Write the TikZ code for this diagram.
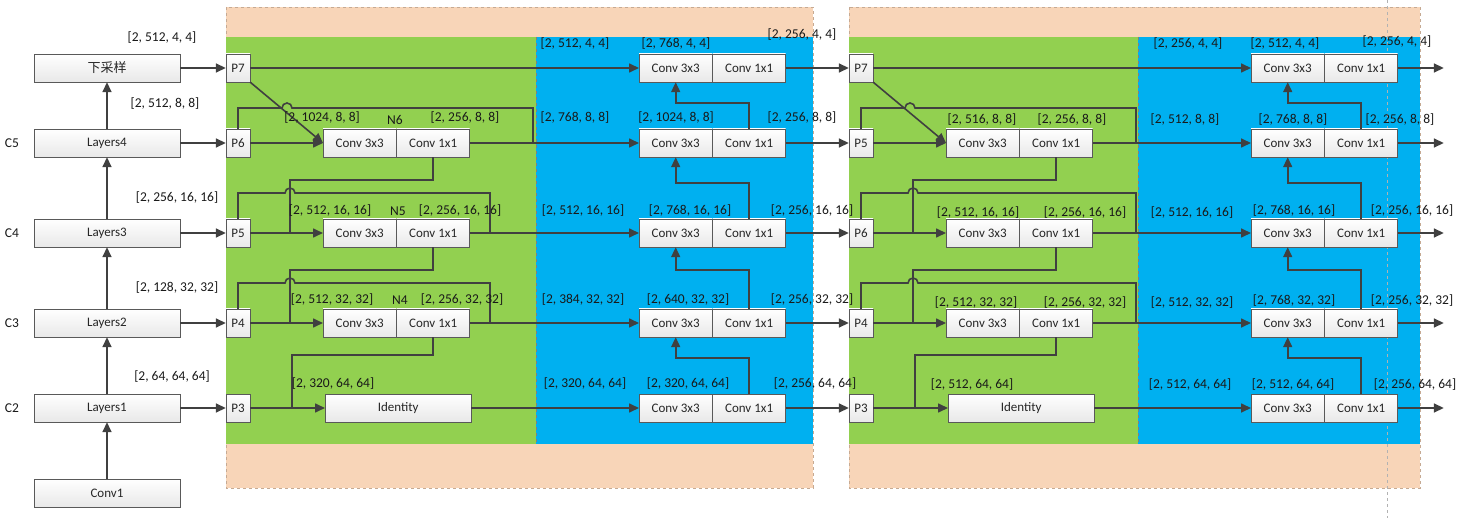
\documentclass[tikz,border=0pt]{standalone}
\usepackage{fontspec}
\setmainfont{Carlito}
\newfontfamily\cjk{Noto Sans CJK SC}
\usetikzlibrary{arrows.meta,calc}
\definecolor{ln}{HTML}{404040}
\definecolor{gr}{HTML}{92D050}
\definecolor{bl}{HTML}{00B0F0}
\definecolor{pc}{HTML}{F8D5B8}
\tikzset{
 box/.style={draw=gray!70!black,top color=white,bottom color=gray!18,minimum height=28,inner sep=0,font=\fontsize{13}{15}\selectfont,text=black!85},
 cv/.style={box,minimum width=73,anchor=west},
 pn/.style={box,minimum width=24},
 lb/.style={font=\fontsize{13.5}{15}\selectfont,text=black!90,inner sep=0},
 line/.style={draw=ln,line width=1.6},
 arr/.style={line,-{Triangle[length=10,width=9]}},
}
\newcommand\fpnblock[8]{%
 \node[pn] (#1Pa) at ({238+#2},68) {P7};
 \node[pn] (#1Pb) at ({238+#2},143) {#5};
 \node[pn] (#1Pc) at ({238+#2},233) {#6};
 \node[pn] (#1Pd) at ({238+#2},323) {P4};
 \node[pn] (#1Pe) at ({238+#2},408) {P3};
 \node[cv] (#1Nb3) at ({323+#2},143) {Conv 3x3};
 \node[cv] (#1Nb1) at (#1Nb3.east) {Conv 1x1};
 \node[cv] (#1Nc3) at ({323+#2},233) {Conv 3x3};
 \node[cv] (#1Nc1) at (#1Nc3.east) {Conv 1x1};
 \node[cv] (#1Nd3) at ({323+#2},323) {Conv 3x3};
 \node[cv] (#1Nd1) at (#1Nd3.east) {Conv 1x1};
 \node[cv,minimum width=146] (#1Ne) at ({325+#2},408) {Identity};
 \foreach \r/\yy in {a/68,b/143,c/233,d/323,e/408}{
  \node[cv] (#1B\r3) at (#3,\yy) {Conv 3x3};
  \node[cv] (#1B\r1) at (#1B\r3.east) {Conv 1x1};
 }
 \draw[arr] (#1Pa) -- (#1Ba3);
 \draw[arr] (#1Pa.south east) -- (#1Nb3.west);
 \draw[arr] (#1Pb) -- (#1Nb3);
 \draw[arr] (#1Nb1) -- (#1Bb3);
 \draw[line] (#1Pb.north) |- ({282+#2+#8},108) arc(180:360:5) -- (#4,108) -- (#4,143);
 \draw[arr] (#1Pc) -- (#1Nc3);
 \draw[arr] (#1Nc1) -- (#1Bc3);
 \draw[line] (#1Nb1.south) |- ({290+#2},180) -- ({290+#2},233);
 \draw[line] (#1Pc.north) |- ({285+#2},193) arc(180:360:5) -- (#7,193) -- (#7,233);
 \draw[arr] (#1Pd) -- (#1Nd3);
 \draw[arr] (#1Nd1) -- (#1Bd3);
 \draw[line] (#1Nc1.south) |- ({290+#2},270) -- ({290+#2},323);
 \draw[line] (#1Pd.north) |- ({285+#2},283) arc(180:360:5) -- (#7,283) -- (#7,323);
 \draw[arr] (#1Pe) -- (#1Ne);
 \draw[arr] (#1Ne) -- (#1Be3);
 \draw[line] (#1Nd1.south) |- ({292+#2},355) -- ({292+#2},408);
 \draw[arr] (#1Be1.north) -- ++(0,-36) -| (#1Bd3.south);
 \draw[arr] (#1Bd1.north) -- ++(0,-39) -| (#1Bc3.south);
 \draw[arr] (#1Bc1.north) -- ++(0,-36) -| (#1Bb3.south);
 \draw[arr] (#1Bb1.north) -- ++(0,-26) -| (#1Ba3.south);
}
\begin{document}
\begin{tikzpicture}[x=1pt,y=-1pt]
\useasboundingbox (0,0) rectangle (1471,518);
\fill[white] (0,0) rectangle (1471,518);
\foreach \a/\g/\b in {226/536/813,849/1138/1420}{
 \draw[pc!80!black,dashed,fill=pc] (\a,7) rectangle (\b,488);
 \fill[gr] (\a,37) rectangle (\g,444);
 \fill[bl] (\g,37) rectangle (\b,444);
 \draw[gray,dashed,thin] (\g,37) -- (\g,444);
}
\draw[gray!60,dashed,thin] (1387,0) -- (1387,518);
\node[box,minimum width=146] (ds) at (107,68) {\cjk 下采样};
\node[box,minimum width=146] (l4) at (107,143) {Layers4};
\node[box,minimum width=146] (l3) at (107,233) {Layers3};
\node[box,minimum width=146] (l2) at (107,323) {Layers2};
\node[box,minimum width=146] (l1) at (107,408) {Layers1};
\node[box,minimum width=146] (c1) at (107,493) {Conv1};
\draw[arr] (c1) -- (l1);
\draw[arr] (l1) -- (l2);
\draw[arr] (l2) -- (l3);
\draw[arr] (l3) -- (l4);
\draw[arr] (l4) -- (ds);
\node[lb] (c5) at (12,143) {C5};
\node[lb] (c4) at (12,233) {C4};
\node[lb] (c3) at (12,323) {C3};
\node[lb] (c2) at (12,408) {C2};
\node[lb] (s0) at (162,38) {[2, 512, 4, 4]};
\node[lb] (s1) at (165,104) {[2, 512, 8, 8]};
\node[lb] (s2) at (177,198) {[2, 256, 16, 16]};
\node[lb] (s3) at (177,288) {[2, 128, 32, 32]};
\node[lb] (s4) at (172,377) {[2, 64, 64, 64]};
\fpnblock{A}{0}{639}{533}{P6}{P5}{490}{0}
\fpnblock{B}{623}{1251}{1136}{P5}{P6}{1136}{0}
\draw[arr] (ds) -- (APa);
\draw[arr] (l4) -- (APb);
\draw[arr] (l3) -- (APc);
\draw[arr] (l2) -- (APd);
\draw[arr] (l1) -- (APe);
\foreach \r in {a,b,c,d,e}{
 \draw[arr] (AB\r1) -- (BP\r);
 \draw[arr] (BB\r1.east) -- ++(46,0);
}
\foreach \x/\y/\t in {575/44/{[2, 512, 4, 4]},676/44/{[2, 768, 4, 4]},802/35/{[2, 256, 4, 4]},
 322/118/{[2, 1024, 8, 8]},395/120/{N6},465/118/{[2, 256, 8, 8]},575/118/{[2, 768, 8, 8]},676/118/{[2, 1024, 8, 8]},802/118/{[2, 256, 8, 8]},
 330/211/{[2, 512, 16, 16]},398/211/{N5},460/211/{[2, 256, 16, 16]},583/211/{[2, 512, 16, 16]},690/211/{[2, 768, 16, 16]},812/211/{[2, 256, 16, 16]},
 332/300/{[2, 512, 32, 32]},400/300/{N4},462/300/{[2, 256, 32, 32]},583/300/{[2, 384, 32, 32]},688/300/{[2, 640, 32, 32]},812/300/{[2, 256, 32, 32]},
 333/384/{[2, 320, 64, 64]},585/384/{[2, 320, 64, 64]},688/384/{[2, 320, 64, 64]},815/384/{[2, 256, 64, 64]},
 1188/44/{[2, 256, 4, 4]},1285/44/{[2, 512, 4, 4]},1397/42/{[2, 256, 4, 4]},
 982/120/{[2, 516, 8, 8]},1072/120/{[2, 256, 8, 8]},1185/120/{[2, 512, 8, 8]},1293/120/{[2, 768, 8, 8]},1400/120/{[2, 256, 8, 8]},
 978/213/{[2, 512, 16, 16]},1085/213/{[2, 256, 16, 16]},1192/213/{[2, 512, 16, 16]},1294/211/{[2, 768, 16, 16]},1412/211/{[2, 256, 16, 16]},
 976/303/{[2, 512, 32, 32]},1085/303/{[2, 256, 32, 32]},1192/303/{[2, 512, 32, 32]},1294/301/{[2, 768, 32, 32]},1412/301/{[2, 256, 32, 32]},
 972/385/{[2, 512, 64, 64]},1190/385/{[2, 512, 64, 64]},1293/385/{[2, 512, 64, 64]},1415/385/{[2, 256, 64, 64]}}{
 \node[lb] at (\x,\y) {\t};
}
\end{tikzpicture}
\end{document}
